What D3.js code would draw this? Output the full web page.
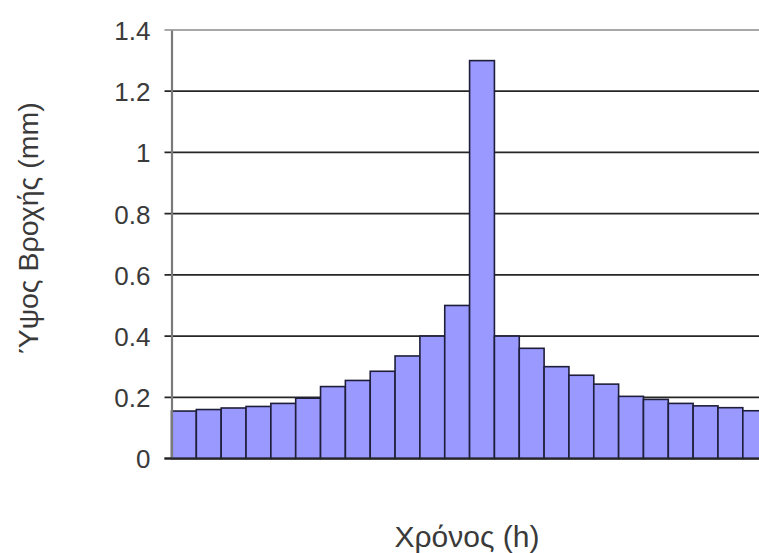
<!DOCTYPE html>
<meta charset="utf-8">
<script src="https://d3js.org/d3.v7.min.js"></script>
<style>
  body { margin: 0; background: #fff; }
  text { font-family: "Liberation Sans", Arial, sans-serif; fill: #3a3a3a; }
</style>
<div id="chart"></div>
<script>
// hourly rainfall depth, 24 blocks
var hours = d3.range(1, 25);
var depth = [0.155, 0.16, 0.165, 0.17, 0.18, 0.197, 0.235, 0.255, 0.285, 0.335, 0.40, 0.50,
             1.30, 0.40, 0.36, 0.30, 0.272, 0.243, 0.203, 0.193, 0.18, 0.172, 0.166, 0.156];
var yTicks = [0, 0.2, 0.4, 0.6, 0.8, 1, 1.2, 1.4];
var yTitle = "Ύψος Βροχής (mm)";
var xTitle = "Χρόνος (h)";

var W = 759, H = 553;
var plotLeft = 171.5, plotTop = 30, plotBottom = 458.5;
var barW = 24.84;

var svg = d3.select("#chart").append("svg")
    .attr("width", W)
    .attr("height", H);

var x = d3.scaleBand()
    .domain(hours)
    .range([plotLeft, plotLeft + barW * hours.length])
    .padding(0);

var y = d3.scaleLinear()
    .domain([0, 1.4])
    .range([plotBottom, plotTop]);

// gridlines
svg.append("g")
  .selectAll("line")
  .data(yTicks)
  .enter().append("line")
    .attr("x1", plotLeft - 7)
    .attr("x2", W)
    .attr("y1", function(d) { return y(d) })
    .attr("y2", function(d) { return y(d) })
    .attr("stroke", function(d) { return d == 1.4 ? "#a8a8a8" : "#262626" })
    .attr("stroke-width", 1.8);

// bars
svg.append("g")
  .selectAll("rect")
  .data(depth)
  .enter().append("rect")
    .attr("x", function(d, i) { return x(hours[i]) })
    .attr("y", function(d) { return y(d) })
    .attr("width", x.bandwidth())
    .attr("height", function(d) { return y(0) - y(d) })
    .attr("fill", "#9999ff")
    .attr("stroke", "#1e1e3a")
    .attr("stroke-width", 1.6);

// y axis
var yAxis = svg.append("g")
    .attr("transform", "translate(" + plotLeft + ",0)")
    .call(d3.axisLeft(y).tickValues(yTicks).tickSize(0).tickPadding(21)
      .tickFormat(function(d) { return d3.format("")(+d.toFixed(1)) }));
yAxis.select(".domain").attr("stroke", "#7a7a7a").attr("stroke-width", 2.2);
yAxis.selectAll("text")
    .attr("font-size", 26)
    .attr("font-family", "Liberation Sans, Arial, sans-serif")
    .attr("fill", "#3a3a3a")
    .attr("dy", "0.36em");

// baseline
svg.append("line")
    .attr("x1", plotLeft - 7).attr("x2", W)
    .attr("y1", y(0)).attr("y2", y(0))
    .attr("stroke", "#262626")
    .attr("stroke-width", 2);

// axis titles
svg.append("text")
    .attr("transform", "translate(38,228) rotate(-90)")
    .attr("text-anchor", "middle")
    .attr("font-size", 28.5)
    .text(yTitle);

svg.append("text")
    .attr("x", 467)
    .attr("y", 547)
    .attr("text-anchor", "middle")
    .attr("font-size", 30)
    .text(xTitle);
</script>
